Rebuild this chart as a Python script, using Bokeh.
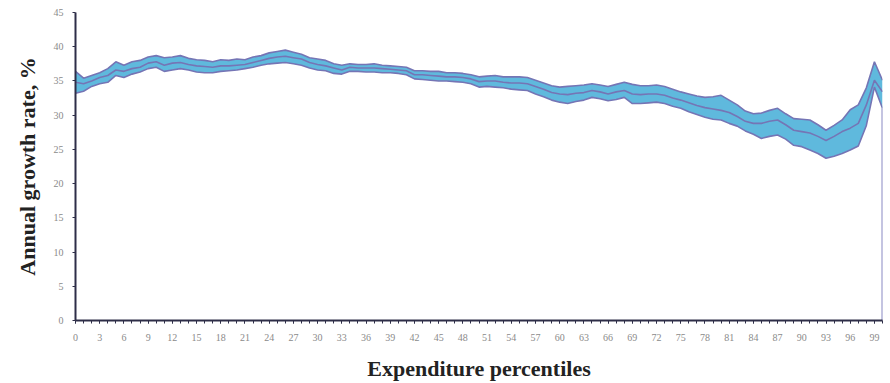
from bokeh.plotting import figure
from bokeh.models import Range1d, FixedTicker
from bokeh.embed import file_html
from bokeh.resources import INLINE

percentiles = list(range(0, 101))

upper = [36.4, 35.4, 35.8, 36.2, 36.8, 37.8, 37.3, 37.8, 38.0, 38.5,
         38.7, 38.4, 38.5, 38.7, 38.3, 38.1, 38.0, 37.8, 38.1, 38.0,
         38.2, 38.1, 38.5, 38.7, 39.1, 39.3, 39.5, 39.2, 38.9, 38.4,
         38.2, 38.0, 37.5, 37.3, 37.5, 37.4, 37.4, 37.5, 37.3, 37.2,
         37.1, 37.0, 36.5, 36.5, 36.4, 36.4, 36.2, 36.2, 36.1, 35.9,
         35.6, 35.7, 35.8, 35.6, 35.6, 35.6, 35.5, 35.1, 34.7, 34.3,
         34.1, 34.2, 34.3, 34.4, 34.6, 34.4, 34.2, 34.5, 34.8, 34.5,
         34.3, 34.3, 34.4, 34.2, 33.8, 33.4, 33.1, 32.8, 32.6, 32.7,
         32.9, 32.2, 31.5, 30.6, 30.2, 30.3, 30.7, 31.0, 30.2, 29.5,
         29.4, 29.3, 28.6, 27.8, 28.5, 29.3, 30.8, 31.5, 34.0, 37.8,
         35.1]

middle = [34.8, 34.6, 35.0, 35.5, 35.8, 36.6, 36.4, 36.8, 37.0, 37.6,
          37.8, 37.3, 37.6, 37.7, 37.4, 37.2, 37.1, 37.0, 37.2, 37.2,
          37.3, 37.4, 37.7, 38.0, 38.3, 38.5, 38.6, 38.4, 38.2, 37.7,
          37.4, 37.2, 36.9, 36.6, 37.0, 36.9, 36.9, 36.9, 36.8, 36.7,
          36.6, 36.5, 35.9, 35.9, 35.8, 35.7, 35.6, 35.6, 35.5, 35.3,
          34.9, 35.0, 35.0, 34.8, 34.7, 34.7, 34.6, 34.2, 33.8, 33.3,
          33.1, 33.0, 33.2, 33.3, 33.6, 33.4, 33.1, 33.4, 33.6, 33.1,
          33.0, 33.1, 33.1, 32.9, 32.5, 32.2, 31.8, 31.4, 31.1, 30.9,
          30.7, 30.4, 29.8, 29.1, 28.8, 28.8, 29.1, 29.3, 28.6, 27.8,
          27.6, 27.4, 26.9, 26.3, 26.9, 27.6, 28.1, 28.8, 31.5, 35.1,
          33.4]

lower = [33.2, 33.5, 34.2, 34.6, 34.8, 35.8, 35.5, 36.0, 36.3, 36.8,
         37.0, 36.4, 36.6, 36.8, 36.6, 36.3, 36.2, 36.2, 36.4, 36.5,
         36.6, 36.8, 37.0, 37.3, 37.5, 37.6, 37.7, 37.5, 37.3, 36.9,
         36.6, 36.5, 36.1, 36.0, 36.4, 36.4, 36.3, 36.3, 36.2, 36.2,
         36.1, 35.9, 35.3, 35.2, 35.1, 35.0, 35.0, 34.9, 34.8, 34.6,
         34.1, 34.2, 34.1, 34.0, 33.8, 33.7, 33.6, 33.1, 32.7, 32.2,
         31.9, 31.7, 32.0, 32.2, 32.6, 32.4, 32.1, 32.3, 32.6, 31.7,
         31.7, 31.8, 31.9, 31.7, 31.3, 31.0, 30.5, 30.1, 29.7, 29.4,
         29.3, 28.8, 28.4, 27.7, 27.2, 26.6, 26.9, 27.1, 26.5, 25.6,
         25.4, 24.9, 24.4, 23.7, 24.0, 24.4, 24.9, 25.5, 28.5, 34.1,
         31.0]

x_tick_labels = list(range(0, 100, 3))
y_ticks = list(range(0, 50, 5))

fill_color = "#5fb9dd"
edge_color = "#7575b5"

p = figure(width=884, height=383, output_backend="svg", toolbar_location=None,
           x_range=Range1d(0, 100), y_range=Range1d(0, 45),
           min_border_left=75, min_border_right=2, min_border_top=12,
           min_border_bottom=62)
p.outline_line_color = None
p.xgrid.visible = False
p.ygrid.visible = False

p.varea(x=percentiles, y1=lower, y2=upper, fill_color=fill_color, fill_alpha=1.0)
p.line(percentiles, upper, line_color=edge_color, line_width=1.6)
p.line(percentiles, lower, line_color=edge_color, line_width=1.6)
p.line(percentiles, middle, line_color=edge_color, line_width=1.6)
p.segment(x0=[percentiles[-1]], y0=[0], x1=[percentiles[-1]], y1=[lower[-1]],
          line_color="#8a8ac4", line_width=2)

p.xaxis.ticker = FixedTicker(ticks=x_tick_labels, minor_ticks=percentiles)
p.yaxis.ticker = FixedTicker(ticks=y_ticks)

for ax in (p.xaxis[0], p.yaxis[0]):
    ax.axis_line_color = "#2e2e48"
    ax.axis_line_width = 2
    ax.major_tick_line_color = "#2e2e48"
    ax.minor_tick_line_color = "#2e2e48"
    ax.major_tick_in = 0
    ax.major_tick_out = 3
    ax.minor_tick_in = 0
    ax.minor_tick_out = 3
    ax.major_label_text_font = "Liberation Serif"
    ax.major_label_text_font_size = "10px"
    ax.major_label_text_color = "#8a8a8a"
    ax.axis_label_text_font = "Liberation Serif"
    ax.axis_label_text_font_style = "bold"
    ax.axis_label_text_color = "#222222"

p.xaxis.axis_label_text_font_size = "22px"
p.yaxis.axis_label_text_font_size = "22px"
p.yaxis.minor_tick_line_color = None
p.xaxis.axis_label = "Expenditure percentiles"
p.yaxis.axis_label = "Annual growth rate, %"
p.xaxis.major_label_standoff = 10
p.yaxis.major_label_standoff = 9
p.xaxis.axis_label_standoff = 12
p.yaxis.axis_label_standoff = 11

open("out.html", "w").write(file_html(p, INLINE))
